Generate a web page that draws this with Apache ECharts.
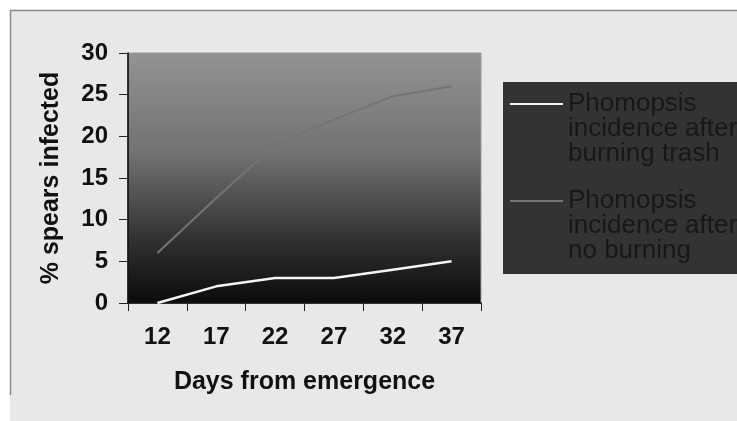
<!DOCTYPE html>
<html>
<head>
<meta charset="utf-8">
<style>
  html, body { margin: 0; padding: 0; background: #e9e9e9; overflow: hidden; }
  #chart { width: 737px; height: 421px; }
</style>
<script src="https://cdn.jsdelivr.net/npm/echarts@6/dist/echarts.min.js"></script>
</head>
<body>
<div id="chart"></div>
<script>
// Days from emergence (category axis)
const days = ['12', '17', '22', '27', '32', '37'];
// % spears infected
const burningTrash = [0, 2, 3, 3, 4, 5];
const noBurning = [6, 12.6, 19, 22, 24.8, 26];
const yTicks = { min: 0, max: 30, step: 5 };

const seriesNames = [
  'Phomopsis incidence after burning trash',
  'Phomopsis incidence after no burning'
];
const legendLines = {
  'Phomopsis incidence after burning trash': ['Phomopsis', 'incidence after', 'burning trash'],
  'Phomopsis incidence after no burning': ['Phomopsis', 'incidence after', 'no burning']
};

const font = '"Liberation Sans", Arial, sans-serif';
const chart = echarts.init(document.getElementById('chart'), null, { renderer: 'canvas' });

chart.setOption({
  animation: false,
  backgroundColor: '#ffffff',
  graphic: [
    // grey panel, then its top and left edge lines
    { type: 'rect', z: -10, shape: { x: 10, y: 10, width: 727, height: 411 },
      style: { fill: '#e8e8e8' } },
    { type: 'line', z: -9, shape: { x1: 10, y1: 10.5, x2: 737, y2: 10.5 },
      style: { stroke: '#8a8a8a', lineWidth: 1.5 } },
    { type: 'line', z: -9, shape: { x1: 10.5, y1: 10, x2: 10.5, y2: 395 },
      style: { stroke: '#8a8a8a', lineWidth: 1.5 } },
    // legend box
    { type: 'rect', z: -5, shape: { x: 503, y: 82, width: 240, height: 192 },
      style: { fill: '#333333' } }
  ],
  grid: {
    left: 128, top: 53, width: 353, height: 250,
    show: true,
    borderColor: '#9a9a9a', borderWidth: 1,
    backgroundColor: new echarts.graphic.LinearGradient(0, 0, 0, 1, [
      { offset: 0, color: '#939393' },
      { offset: 0.4, color: '#727272' },
      { offset: 0.75, color: '#303030' },
      { offset: 1, color: '#0b0b0b' }
    ])
  },
  legend: {
    orient: 'vertical',
    left: 503, top: 41,
    padding: [0, 0, 0, 7],
    icon: 'rect',
    itemWidth: 53, itemHeight: 2,
    itemGap: -29,
    data: seriesNames,
    // two empty lines on top keep each swatch level with the first text line
    formatter: name => '\n\n' + legendLines[name].join('\n'),
    textStyle: {
      fontFamily: font, fontSize: 26, lineHeight: 25,
      color: '#181818'
    }
  },
  xAxis: {
    type: 'category',
    data: days,
    boundaryGap: true,
    name: 'Days from emergence',
    nameLocation: 'middle',
    nameGap: 67,
    nameTextStyle: { fontFamily: font, fontSize: 25, fontWeight: 'bold', color: '#111' },
    axisLine: { show: true, lineStyle: { color: '#000', width: 1.5 } },
    axisTick: { show: true, interval: 0, length: 8, lineStyle: { color: '#222' } },
    axisLabel: { fontFamily: font, fontSize: 24, fontWeight: 'bold', color: '#111', margin: 22 },
    splitLine: { show: false }
  },
  yAxis: {
    type: 'value',
    min: yTicks.min, max: yTicks.max, interval: yTicks.step,
    name: '% spears infected',
    nameLocation: 'middle',
    nameGap: 64,
    nameRotate: 90,
    nameTextStyle: { fontFamily: font, fontSize: 25, fontWeight: 'bold', color: '#111' },
    axisLine: { show: true, lineStyle: { color: '#000', width: 1.5 } },
    axisTick: { show: true, length: 9, lineStyle: { color: '#222' } },
    axisLabel: { fontFamily: font, fontSize: 24, fontWeight: 'bold', color: '#111', margin: 20 },
    splitLine: { show: false }
  },
  series: [
    {
      name: seriesNames[0],
      type: 'line',
      data: burningTrash,
      symbol: 'none',
      lineStyle: { color: '#f4f4f4', width: 2.5 },
      itemStyle: { color: '#f4f4f4' }
    },
    {
      name: seriesNames[1],
      type: 'line',
      data: noBurning,
      symbol: 'none',
      lineStyle: { color: '#747474', width: 2 },
      itemStyle: { color: '#747474' }
    }
  ]
});
</script>
</body>
</html>
